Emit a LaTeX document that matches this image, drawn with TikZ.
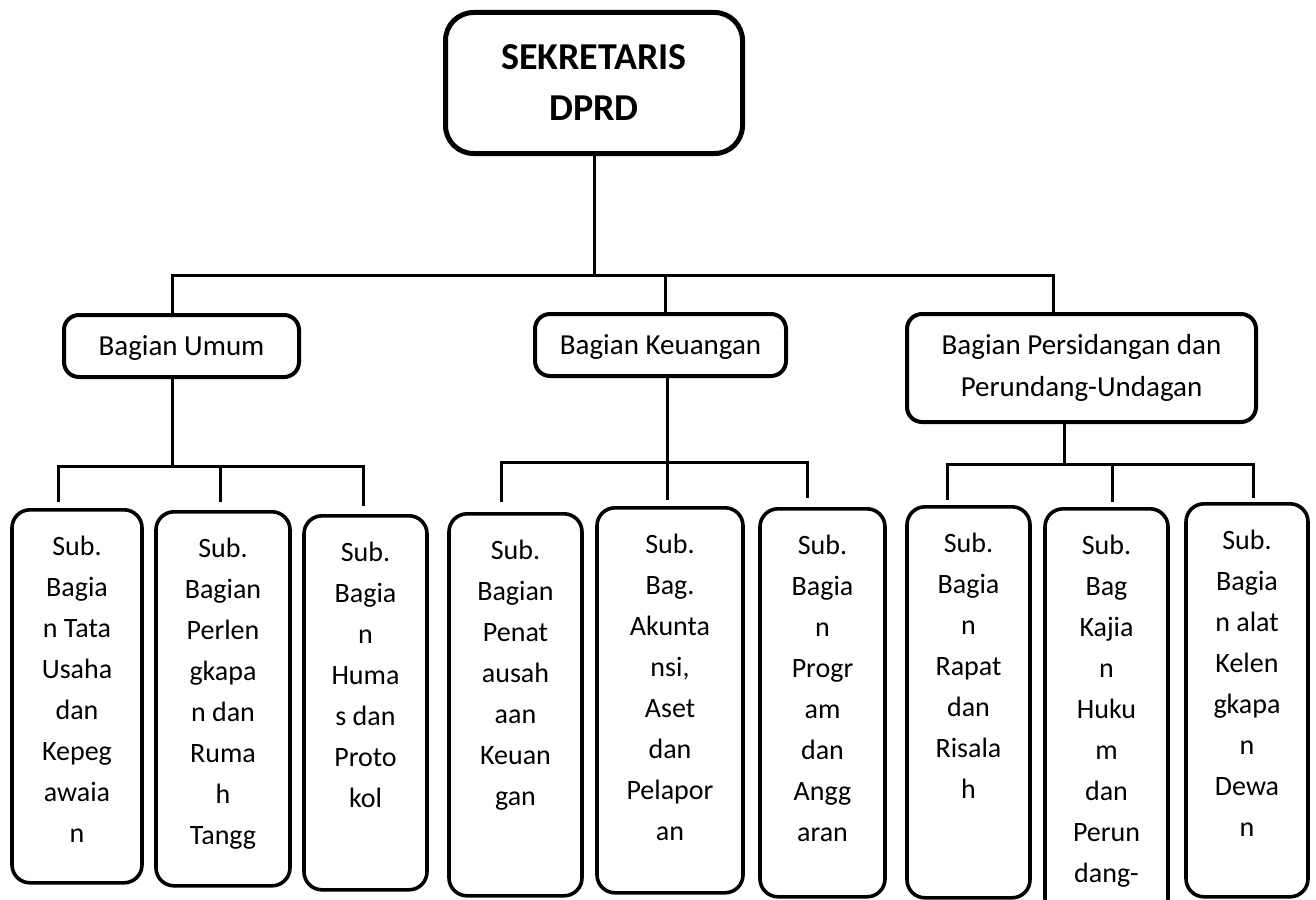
\documentclass[tikz,border=0pt]{standalone}
\usepackage{fontspec}
\setmainfont{Carlito}
\usepackage{xcolor}

% isi kotak sub bagian, teks rata atas
\newcommand{\subisi}[3]{\parbox[t][#2pt][t]{#1pt}{\centering\vspace*{26pt}#3}}

\begin{document}
\begin{tikzpicture}[x=1pt, y=-1pt,
  topbox/.style={draw, line width=5pt, rounded corners=28pt, minimum width=297pt, minimum height=141pt, align=center, inner sep=0pt, font=\bfseries\fontsize{38}{51}\selectfont},
  bagbox/.style={draw, line width=4pt, rounded corners=15pt, align=center, inner sep=0pt, font=\fontsize{29}{42}\selectfont},
  subbox/.style={draw, line width=3.6pt, rounded corners=18pt, inner sep=0pt, anchor=north, font=\fontsize{28}{41}\selectfont},
  garis/.style={line width=3pt}]

        \useasboundingbox (0,0) rectangle (1316,899);
        \clip (0,0) rectangle (1316,899);

        % Sekretaris
        \node[topbox] (sekr) at (594,83) {SEKRETARIS\\DPRD};

        % Bagian
        \node[bagbox, text depth=0pt, minimum width=235pt, minimum height=62pt] (umum) at (181.5,346) {Bagian Umum};
        \node[bagbox, text depth=0pt, minimum width=251pt, minimum height=62pt] (keu) at (660.5,345) {Bagian Keuangan};
        \node[bagbox, minimum width=349pt, minimum height=108pt] (sidang) at (1081.5,368) {Bagian Persidangan dan\\Perundang-Undagan};

        % Sub bagian umum
        \node[subbox] (sub1) at (77,508) {\subisi{130}{373}{Sub.\\Bagia\\n Tata\\Usaha\\dan\\Kepeg\\awaia\\n}};
        \node[subbox] (sub2) at (223,510) {\subisi{134}{374}{Sub.\\Bagian\\Perlen\\gkapa\\n dan\\Ruma\\h\\Tangg}};
        \node[subbox] (sub3) at (365.5,514) {\subisi{123}{374}{Sub.\\Bagia\\n\\Huma\\s dan\\Proto\\kol}};

        % Sub bagian keuangan
        \node[subbox] (sub4) at (515.5,512) {\subisi{133}{382}{Sub.\\Bagian\\Penat\\ausah\\aan\\Keuan\\gan}};
        \node[subbox] (sub5) at (670,506) {\subisi{146}{385}{Sub.\\Bag.\\Akunta\\nsi,\\Aset\\dan\\Pelapor\\an}};
        \node[subbox] (sub6) at (822.5,507) {\subisi{125}{388}{Sub.\\Bagia\\n\\Progr\\am\\dan\\Angg\\aran}};

        % Sub bagian persidangan
        \node[subbox] (sub7) at (968.5,505) {\subisi{123}{391}{Sub.\\Bagia\\n\\Rapat\\dan\\Risala\\h}};
        \node[subbox] (sub8) at (1106.5,507) {\subisi{123}{408}{Sub.\\Bag\\Kajia\\n\\Huku\\m\\dan\\Perun\\dang-}};
        \node[subbox] (sub9) at (1247,502) {\subisi{122}{393}{Sub.\\Bagia\\n alat\\Kelen\\gkapa\\n\\Dewa\\n}};

        % Garis utama
        \coordinate (busA) at (172,275);
        \coordinate (busK) at (665,275);
        \coordinate (busB) at (1053,275);
        \draw[garis] (sekr.south) -- (sekr.south |- busA);
        \draw[garis] (busA |- umum.north) -- (busA) -- (busB) -- (busB |- sidang.north);
        \draw[garis] (busK) -- (busK |- keu.north);

        % Garis bagian umum
        \coordinate (u1) at (58,466);
        \coordinate (u2) at (220,466);
        \coordinate (u3) at (363,466);
        \draw[garis] (umum.south -| busA) -- (busA |- u1);
        \draw[garis, shorten <=6pt, shorten >=8pt] (u1 |- sub1.north) -- (u1) -- (u3) -- (u3 |- sub3.north);
        \draw[garis, shorten >=8pt] (u2) -- (u2 |- sub2.north);

        % Garis bagian keuangan
        \coordinate (k1) at (501,462);
        \coordinate (k2) at (667,462);
        \coordinate (k3) at (807,462);
        \draw[garis] (keu.south -| k2) -- (k2);
        \draw[garis, shorten <=10pt, shorten >=9pt] (k1 |- sub4.north) -- (k1) -- (k3) -- (k3 |- sub6.north);
        \draw[garis, shorten >=6pt] (k2) -- (k2 |- sub5.north);

        % Garis bagian persidangan
        \coordinate (p1) at (947,464);
        \coordinate (p2) at (1112,464);
        \coordinate (p3) at (1253,464);
        \coordinate (pm) at (1064,464);
        \draw[garis] (sidang.south -| pm) -- (pm);
        \draw[garis, shorten <=5pt, shorten >=4pt] (p1 |- sub7.north) -- (p1) -- (p3) -- (p3 |- sub9.north);
        \draw[garis, shorten >=5pt] (p2) -- (p2 |- sub8.north);

\end{tikzpicture}
\end{document}
